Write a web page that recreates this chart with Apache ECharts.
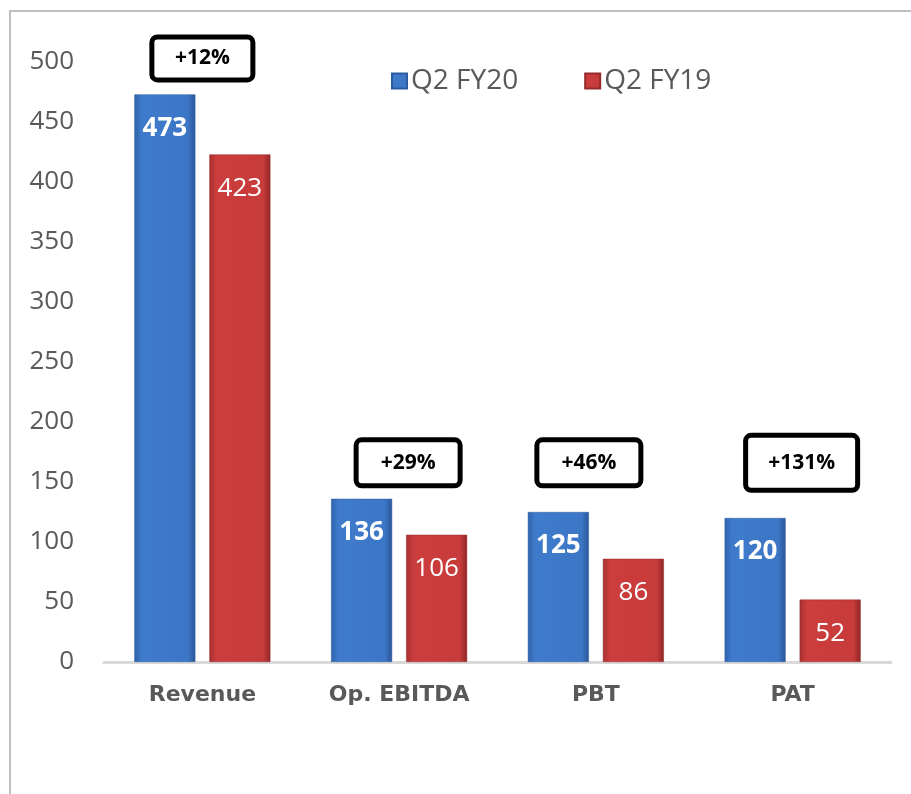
<!DOCTYPE html>
<html>
<head>
<meta charset="utf-8">
<script src="https://cdn.jsdelivr.net/npm/echarts@6/dist/echarts.min.js"></script>
<style>
html,body{margin:0;padding:0;background:#fff;}
#frame{position:absolute;left:9px;top:10px;width:1000px;height:1000px;border-left:2px solid #bfbfbf;border-top:2px solid #bfbfbf;}
#chart{position:absolute;left:0;top:0;width:911px;height:794px;}
</style>
</head>
<body>
<div id="frame"></div>
<div id="chart"></div>
<script>
// ---- data ----
var categories = ['Revenue', 'Op. EBITDA', 'PBT', 'PAT'];
var seriesNames = ['Q2 FY20', 'Q2 FY19'];
var q2fy20 = [473, 136, 125, 120];
var q2fy19 = [423, 106, 86, 52];
var growthLabels = ['+12%', '+29%', '+46%', '+131%'];
var growthAnchor = [503, 166, 166, 166];
var yTicks = [0, 50, 100, 150, 200, 250, 300, 350, 400, 450, 500];

// ---- styles ----
var blueGrad = new echarts.graphic.LinearGradient(0, 0, 1, 0, [
  {offset: 0, color: '#2f62aa'}, {offset: 0.12, color: '#3f7bcc'},
  {offset: 0.88, color: '#3c76c6'}, {offset: 1, color: '#2a5596'}
]);
var redGrad = new echarts.graphic.LinearGradient(0, 0, 1, 0, [
  {offset: 0, color: '#a83030'}, {offset: 0.12, color: '#cc3d3d'},
  {offset: 0.88, color: '#c83b3b'}, {offset: 1, color: '#8f2626'}
]);
var boxWidths = [96, 99, 99, 107];
var boxHeights = [38, 41, 41, 50];
var boxOffsets = [0, 9, -7, 9];

var chart = echarts.init(document.getElementById('chart'), null, {renderer: 'canvas'});
var option = {
  animation: false,
  backgroundColor: 'transparent',
  legend: {
    data: seriesNames,
    left: 386, top: 62,
    itemWidth: 15, itemHeight: 15, itemGap: 66,
    icon: 'rect',
    textStyle: {fontFamily: 'Open Sans', fontSize: 28, color: '#595959', padding: [0,0,0,-1]}
  },
  grid: {left: 104, right: 20, top: 62, bottom: 132, containLabel: false},
  xAxis: {
    type: 'category',
    data: categories,
    axisTick: {show: false},
    axisLine: {lineStyle: {color: '#d9d9d9', width: 3}},
    axisLabel: {fontFamily: 'DejaVu Sans', fontWeight: 'bold', fontSize: 22, color: '#595959', margin: 22}
  },
  yAxis: {
    type: 'value',
    min: 0, max: 500, interval: 50,
    axisLine: {show: false},
    axisTick: {show: false},
    splitLine: {show: false},
    axisLabel: {fontFamily: 'Open Sans', fontSize: 26, color: '#595959', margin: 30}
  },
  series: [
    {
      name: seriesNames[0], type: 'bar', data: q2fy20,
      barWidth: 61, barGap: '23%',
      itemStyle: {color: blueGrad, borderColor: '#2b5a9e', borderWidth: 0.5},
      label: {show: true, position: 'insideTop', distance: 21, color: '#fff',
        fontFamily: 'Open Sans', fontWeight: 'bold', fontSize: 26}
    },
    {
      name: seriesNames[1], type: 'bar', data: q2fy19,
      barWidth: 61,
      itemStyle: {color: redGrad, borderColor: '#962a2a', borderWidth: 0.5},
      label: {show: true, position: 'insideTop', distance: 21, color: '#fff',
        fontFamily: 'Open Sans', fontSize: 26}
    },
    {
      name: 'growth', type: 'scatter', symbol: 'rect', symbolSize: 2, silent: true,
      clip: false,
      itemStyle: {color: 'rgba(255,255,255,0)'},
      z: 10,
      data: growthAnchor.map(function (v, i) {
        return {
          value: v,
          label: {
            width: boxWidths[i], height: boxHeights[i], offset: [boxOffsets[i], 0],
            formatter: growthLabels[i]
          }
        };
      }),
      label: {
        show: true, position: 'inside', align: 'center', verticalAlign: 'middle',
        fontFamily: 'Open Sans', fontWeight: 'bold', fontSize: 21, color: '#000',
        textBorderWidth: 0, textShadowBlur: 0, shadowBlur: 0, opacity: 1,
        backgroundColor: '#ffffff', borderColor: '#000000', borderWidth: 5, borderRadius: 3,
        padding: 0
      }
    }
  ]
};
chart.setOption(option);
</script>
</body>
</html>
